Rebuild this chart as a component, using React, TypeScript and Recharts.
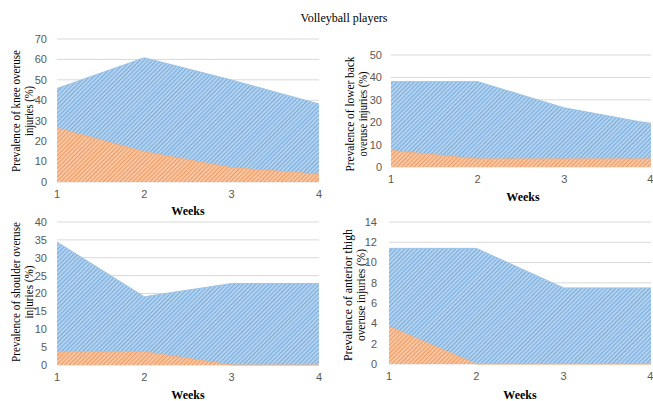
import { AreaChart, Area, XAxis, YAxis, CartesianGrid } from 'recharts';

const weeks = [1, 2, 3, 4];

const kneeOverall = [45.8, 60.8, 49.9, 38.2];
const kneeSubstantial = [26.4, 14.8, 7.0, 3.8];

const backOverall = [38.1, 38.1, 26.4, 19.3];
const backSubstantial = [7.4, 3.6, 3.6, 3.6];

const shoulderOverall = [34.4, 19.1, 22.8, 22.8];
const shoulderSubstantial = [3.7, 3.7, 0, 0];

const thighOverall = [11.4, 11.4, 7.5, 7.5];
const thighSubstantial = [3.7, 0, 0, 0];

const kneeTicks = [0, 10, 20, 30, 40, 50, 60, 70];
const backTicks = [0, 10, 20, 30, 40, 50];
const shoulderTicks = [0, 5, 10, 15, 20, 25, 30, 35, 40];
const thighTicks = [0, 2, 4, 6, 8, 10, 12, 14];

const BLUE_BG = '#b1d1ee';
const BLUE_LINE = '#649fd6';
const ORANGE_BG = '#f7c6a3';
const ORANGE_LINE = '#ee8845';

const TICK_FONT = { fontFamily: 'Liberation Sans, Arial, sans-serif', fontSize: 11, fill: '#595959' };
const SERIF = 'Liberation Serif, Times New Roman, serif';

interface PanelProps {
  id: string;
  left: number;
  top: number;
  width: number;
  height: number;
  margin: { top: number; right: number; bottom: number; left: number };
  yWidth: number;
  yTickMargin: number;
  ticks: number[];
  overall: number[];
  substantial: number[];
}

function Panel({ id, left, top, width, height, margin, yWidth, yTickMargin, ticks, overall, substantial }: PanelProps) {
  const data = weeks.map((w, i) => ({ week: w, overall: overall[i], substantial: substantial[i] }));
  return (
    <div style={{ position: 'absolute', left, top, width, height }}>
      <AreaChart width={width} height={height} data={data} margin={margin}>
        <defs>
          <pattern id={`${id}-blue`} width={3} height={3} patternUnits="userSpaceOnUse" patternTransform="rotate(45)">
            <rect width={3} height={3} fill={BLUE_BG} />
            <line x1={0} y1={0} x2={0} y2={3} stroke={BLUE_LINE} strokeWidth={1.4} />
          </pattern>
          <pattern id={`${id}-orange`} width={3} height={3} patternUnits="userSpaceOnUse" patternTransform="rotate(45)">
            <rect width={3} height={3} fill={ORANGE_BG} />
            <line x1={0} y1={0} x2={0} y2={3} stroke={ORANGE_LINE} strokeWidth={1.4} />
          </pattern>
        </defs>
        <CartesianGrid vertical={false} stroke="#d9d9d9" />
        <XAxis
          dataKey="week"
          type="number"
          domain={[1, 4]}
          ticks={weeks}
          axisLine={false}
          tickLine={false}
          tick={TICK_FONT}
          height={18}
        />
        <YAxis
          domain={[0, ticks[ticks.length - 1]]}
          ticks={ticks}
          width={yWidth}
          axisLine={false}
          tickLine={false}
          tickMargin={yTickMargin}
          tick={TICK_FONT}
          interval={0}
        />
        <Area
          type="linear"
          dataKey="overall"
          stroke="#9cc3e6"
          strokeWidth={1}
          fill={`url(#${id}-blue)`}
          fillOpacity={1}
          isAnimationActive={false}
        />
        <Area
          type="linear"
          dataKey="substantial"
          stroke="#f4b183"
          strokeWidth={1}
          fill={`url(#${id}-orange)`}
          fillOpacity={1}
          isAnimationActive={false}
        />
      </AreaChart>
    </div>
  );
}

// two rotated lines, each given by its baseline x and length, both centred on y
function YLabel({ x1, x2, y, lines, lens }: { x1: number; x2: number; y: number; lines: string[]; lens: number[] }) {
  return (
    <g fontFamily={SERIF} fontSize={12} fill="#000" textAnchor="middle">
      <text transform={`translate(${x1},${y}) rotate(-90)`} textLength={lens[0]} lengthAdjust="spacingAndGlyphs">
        {lines[0]}
      </text>
      <text transform={`translate(${x2},${y}) rotate(-90)`} textLength={lens[1]} lengthAdjust="spacingAndGlyphs">
        {lines[1]}
      </text>
    </g>
  );
}

function WeeksLabel({ x, y }: { x: number; y: number }) {
  return (
    <text x={x} y={y} textAnchor="middle" fontFamily={SERIF} fontSize={12} fontWeight="bold" fill="#000">
      Weeks
    </text>
  );
}

export default function App() {
  return (
    <div style={{ position: 'absolute', left: 0, top: 0, width: 653, height: 401, background: '#fff', overflow: 'hidden' }}>
      <Panel
        id="knee"
        left={0}
        top={0}
        width={330}
        height={200}
        margin={{ top: 39, right: 11, bottom: 0, left: 0 }}
        yWidth={57}
        yTickMargin={4}
        ticks={kneeTicks}
        overall={kneeOverall}
        substantial={kneeSubstantial}
      />
      <Panel
        id="back"
        left={330}
        top={0}
        width={323}
        height={200}
        margin={{ top: 55, right: 2, bottom: 15, left: 0 }}
        yWidth={61}
        yTickMargin={3}
        ticks={backTicks}
        overall={backOverall}
        substantial={backSubstantial}
      />
      <Panel
        id="shoulder"
        left={0}
        top={200}
        width={330}
        height={201}
        margin={{ top: 22, right: 11, bottom: 18, left: 0 }}
        yWidth={57}
        yTickMargin={4}
        ticks={shoulderTicks}
        overall={shoulderOverall}
        substantial={shoulderSubstantial}
      />
      <Panel
        id="thigh"
        left={330}
        top={200}
        width={323}
        height={201}
        margin={{ top: 22, right: 2, bottom: 19, left: 0 }}
        yWidth={59}
        yTickMargin={6}
        ticks={thighTicks}
        overall={thighOverall}
        substantial={thighSubstantial}
      />
      <svg width={653} height={401} style={{ position: 'absolute', left: 0, top: 0, pointerEvents: 'none' }}>
        <text x={344} y={22} textAnchor="middle" fontFamily={SERIF} fontSize={12} fill="#000">
          Volleyball players
        </text>
        <YLabel x1={20} x2={33} y={111} lens={[122, 50]} lines={['Prevalence of knee overuse', 'injuries (%)']} />
        <YLabel x1={354} x2={367} y={114} lens={[115, 85]} lines={['Prevalence of lower back', 'overuse injuries (%)']} />
        <YLabel x1={20} x2={33} y={292} lens={[140, 53]} lines={['Prevalence of shoulder overuse', 'injuries (%)']} />
        <YLabel x1={352} x2={365} y={295} lens={[132, 92]} lines={['Prevalence of anterior thigh', 'overuse injuries (%)']} />
        <WeeksLabel x={188} y={215} />
        <WeeksLabel x={523} y={201} />
        <WeeksLabel x={188} y={399} />
        <WeeksLabel x={520} y={399} />
      </svg>
    </div>
  );
}
